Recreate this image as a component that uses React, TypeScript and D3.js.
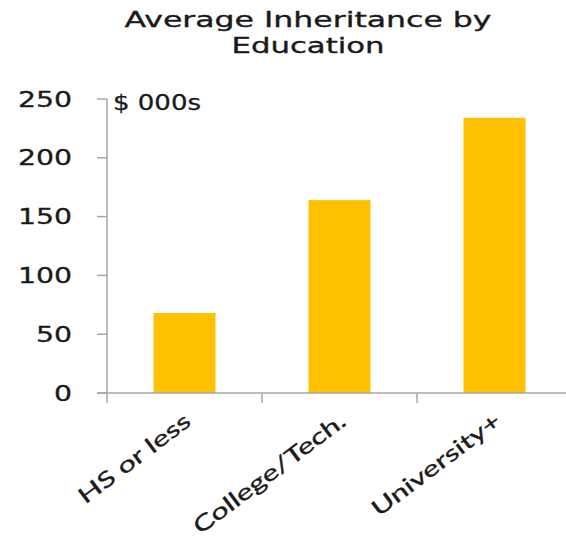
import React from "react";
import * as d3 from "d3";

const categories = ["HS or less", "College/Tech.", "University+"];
const values = [68, 164, 234];
const yTicks = [0, 50, 100, 150, 200, 250];
const titleLines = ["Average Inheritance by", "Education"];
const unitLabel = "$ 000s";

const W = 566;
const H = 541;
const FONT = "'DejaVu Sans', Verdana, sans-serif";
const LFONT = "Lato, 'DejaVu Sans', sans-serif";
const AXIS = "#a6a6a6";
const BAR = "#FFC000";
const TXT = "#1a1a1a";
const SX = 1.35;

export default function App() {
  const x0 = 107;
  const bandW = 155;
  const x = d3
    .scaleBand<string>()
    .domain(categories)
    .range([x0, x0 + bandW * categories.length])
    .paddingInner(0.6)
    .paddingOuter(0.3);
  const xb = d3.scaleBand<string>().domain(categories).range([x0, x0 + bandW * categories.length]);
  const y = d3.scaleLinear().domain([0, 250]).range([393, 99]);

  return (
    <svg width={W} height={H} style={{ position: "absolute", left: 0, top: 0, background: "#fff" }}>
      <rect x={0} y={0} width={W} height={H} fill="#fff" />
      {/* title */}
      <g stroke={TXT} strokeWidth={0.35}>
        <text x={308} y={27} textAnchor="middle" fontFamily={FONT} fontSize={22} fill={TXT} textLength={367} lengthAdjust="spacingAndGlyphs">
          {titleLines[0]}
        </text>
        <text x={308} y={53} textAnchor="middle" fontFamily={FONT} fontSize={22} fill={TXT} textLength={153} lengthAdjust="spacingAndGlyphs">
          {titleLines[1]}
        </text>
      </g>
      {/* bars */}
      {categories.map((c, i) => (
        <rect key={c} x={x(c)} y={y(values[i])} width={x.bandwidth()} height={y(0) - y(values[i])} fill={BAR} />
      ))}
      {/* y axis */}
      <line x1={x0} x2={x0} y1={y(250)} y2={403} stroke={AXIS} strokeWidth={1.5} />
      {yTicks.map((t) => (
        <g key={t}>
          <line x1={97} x2={x0} y1={y(t)} y2={y(t)} stroke={AXIS} strokeWidth={1.5} />
          <g transform={`translate(72,${y(t)}) scale(${SX},1)`}>
            <text x={0} y={0} dy="0.36em" textAnchor="end" fontFamily={FONT} fontSize={21} fill={TXT} stroke={TXT} strokeWidth={0.3}>
              {t}
            </text>
          </g>
        </g>
      ))}
      {/* x axis */}
      <line x1={97} x2={W} y1={y(0)} y2={y(0)} stroke={AXIS} strokeWidth={1.5} />
      {categories.map((c) => (
        <line key={c} x1={(xb(c) as number) + bandW} x2={(xb(c) as number) + bandW} y1={y(0)} y2={403} stroke={AXIS} strokeWidth={1.5} />
      ))}
      {categories.map((c) => {
        const cx = (xb(c) as number) + bandW / 2 + 8;
        return (
          <g key={c} transform={`translate(${cx},${424}) rotate(-37) scale(1.4,1)`}>
            <text x={0} y={0} textAnchor="end" fontFamily={LFONT} fontSize={22} fill={TXT} stroke={TXT} strokeWidth={0.3}>
              {c}
            </text>
          </g>
        );
      })}
      {/* unit label */}
      <text x={113} y={110} fontFamily={FONT} fontSize={21} fill={TXT} stroke={TXT} strokeWidth={0.3} textLength={88} lengthAdjust="spacingAndGlyphs">
        {unitLabel}
      </text>
    </svg>
  );
}
